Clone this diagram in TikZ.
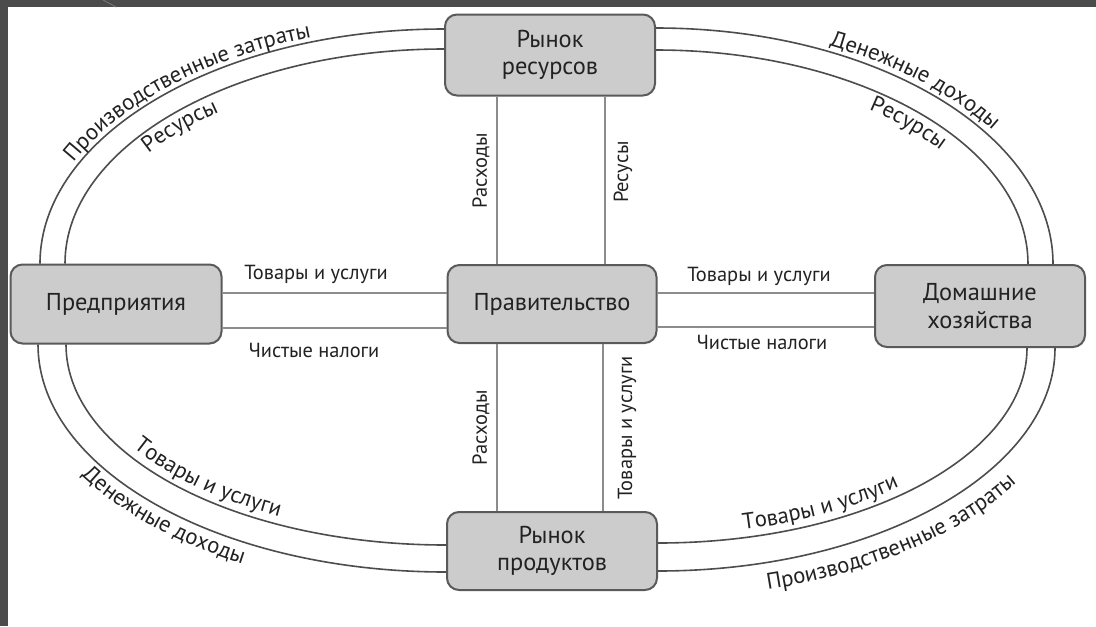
\documentclass[tikz,border=0pt]{standalone}
\usepackage{fontspec}
\setmainfont{PT Sans}
\usetikzlibrary{decorations.text,calc}
\definecolor{frame}{HTML}{4B4B4B}
\definecolor{frameline}{HTML}{7A7A7A}
\definecolor{boxfill}{HTML}{CCCCCC}
\definecolor{boxline}{HTML}{5A5A5A}
\definecolor{flowline}{HTML}{8C8C8C}
\definecolor{ringline}{HTML}{4D4D4D}
\definecolor{txt}{HTML}{222222}
\newcommand\boxfont{\fontsize{18.3}{20.5}\selectfont}
\newcommand\lblfont{\fontsize{15.3}{18}\selectfont}
\newcommand\arcfont{\fontsize{17}{20}\selectfont}
% #1,#2 centre; #3,#4 radii; #5,#6 start/end angle; #7 text
\newcommand\arctext[7]{%
  \path[arclbl={#7}] (#1,#2) ++(#5:#3 and #4)
    arc[start angle=#5, end angle=#6, x radius=#3, y radius=#4];}
\begin{document}
\begin{tikzpicture}[x=0.75pt,y=-0.75pt,
  sector/.style={draw=boxline, fill=boxfill, line width=1.5pt, rounded corners=9pt,
    align=center, font=\boxfont, text=txt, inner sep=0pt},
  flow/.style={draw=flowline, line width=2.2pt},
  ring/.style={draw=ringline, line width=1.2pt},
  lbl/.style={font=\lblfont, text=txt, inner sep=0pt},
  arclbl/.style={decorate, decoration={text along path, text align=left,
    text color=txt, text={|\arcfont|#1}}}
]
\useasboundingbox (0,0) rectangle (1096,626);
\fill[white] (0,0) rectangle (1096,626);
\fill[frame] (0,0) rectangle (1096,7);
\fill[frame] (0,0) rectangle (8,626);
\draw[frameline, line width=0.6pt] (103,0) -- (116,7);

% sectors
\node[sector, minimum width=157.5pt, minimum height=60.75pt] (rr)   at (550,55)  {Рынок\\ресурсов};
\node[sector, minimum width=156.75pt, minimum height=58.5pt] (gov)  at (552,304) {Правительство};
\node[sector, minimum width=157.5pt, minimum height=58.5pt]  (rp)   at (552,551) {Рынок\\продуктов};
\node[sector, minimum width=158.25pt, minimum height=59.25pt] (firm) at (116,304) {Предприятия};
\node[sector, minimum width=157.5pt, minimum height=61.5pt]  (hh)   at (980,306) {Домашние\\хозяйства};

% ring flows
\draw[ring] (rr.west |- 0,29) .. controls +(-223,0) and +(0,-129) .. (firm.north -| 40,0);
\draw[ring] (rr.west |- 0,49) .. controls +(-209,0) and +(0,-118) .. (firm.north -| 65,0);
\draw[ring] (rr.east |- 0,28) .. controls +(219,0) and +(0,-130) .. (hh.north -| 1053,0);
\draw[ring] (rr.east |- 0,50) .. controls +(205,0) and +(0,-118) .. (hh.north -| 1028,0);
\draw[ring] (firm.south -| 38,0) .. controls +(0,126) and +(-225,0) .. (rp.west |- 0,572);
\draw[ring] (firm.south -| 66,0) .. controls +(0,111) and +(-210,0) .. (rp.west |- 0,545);
\draw[ring] (hh.south -| 1055,0) .. controls +(0,123) and +(219,0) .. (rp.east |- 0,571);
\draw[ring] (hh.south -| 1027,0) .. controls +(0,108) and +(204,0) .. (rp.east |- 0,543);

% government flows
\draw[flow] (rr.south -| 497,0) -- (gov.north -| 497,0);
\draw[flow] (rr.south -| 605,0) -- (gov.north -| 605,0);
\draw[flow] (gov.south -| 497,0) -- (rp.north -| 497,0);
\draw[flow] (gov.south -| 603,0) -- (rp.north -| 603,0);
\draw[flow] (firm.east |- 0,293) -- (gov.west |- 0,293);
\draw[flow] (firm.east |- 0,328) -- (gov.west |- 0,328);
\draw[flow] (gov.east |- 0,293) -- (hh.west |- 0,293);
\draw[flow] (gov.east |- 0,327) -- (hh.west |- 0,327);

% straight labels
\node[lbl, anchor=base] (l1) at (316,279) {Товары и услуги};
\node[lbl, anchor=base] (l2) at (314,357) {Чистые налоги};
\node[lbl, anchor=base] (l3) at (759,281) {Товары и услуги};
\node[lbl, anchor=base] (l4) at (762,349) {Чистые налоги};
\node[lbl, rotate=90] (v1) at (481,171) {Расходы};
\node[lbl, rotate=90] (v2) at (623,172) {Ресусы};
\node[lbl, rotate=90] (v3) at (481,428) {Расходы};
\node[lbl, rotate=90] (v4) at (627,428) {Товары и услуги};

% curved labels
\arctext{445}{264}{410}{240}{-155}{-80}{Производственные затраты}
\arctext{445}{264}{360}{195}{-145.5}{-100}{Ресурсы}
\arctext{655}{265}{405}{243}{-64.5}{-5}{Денежные доходы}
\arctext{655}{265}{353}{195}{-52.7}{-10}{Ресурсы}
\arctext{447}{343}{373}{194}{-212.7}{-265}{Товары и услуги}
\arctext{447}{343}{431}{251}{-211.9}{-265}{Денежные доходы}
\arctext{657}{347}{363}{188}{-283.75}{-340}{Товары и услуги}
\arctext{657}{347}{428}{251}{-285}{-350}{Производственные затраты}
\end{tikzpicture}
\end{document}
